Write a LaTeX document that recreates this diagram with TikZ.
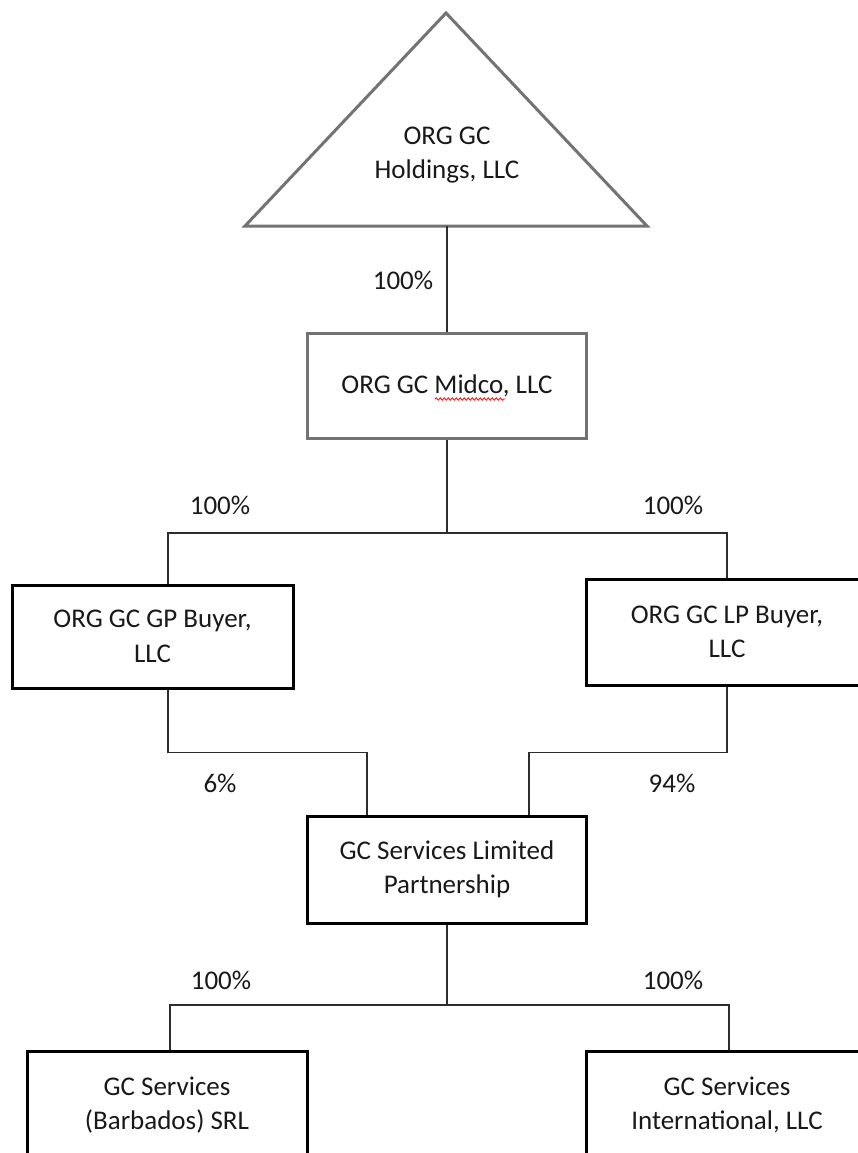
\documentclass[tikz,border=0pt]{standalone}
\usepackage{fontspec}
\setmainfont{Carlito}
\usetikzlibrary{decorations.pathmorphing}
\definecolor{txt}{RGB}{25,25,25}
\definecolor{linec}{RGB}{45,45,45}
\definecolor{grayb}{RGB}{115,115,115}
\tikzset{
  entity/.style={draw=black, line width=3pt, fill=white, align=center, text=txt,
    font=\fontsize{27}{34.5}\selectfont, inner sep=0pt},
  grayentity/.style={entity, draw=grayb},
  conn/.style={draw=linec, line width=1.3pt},
  pct/.style={text=txt, font=\fontsize{27}{32}\selectfont, inner sep=0pt},
}
\begin{document}
\begin{tikzpicture}[x=1pt,y=-1pt]
\useasboundingbox (0,0) rectangle (857,1153);
% triangle
\coordinate (apex) at (446,13);
\coordinate (tl) at (245,226);
\coordinate (tr) at (647,226);
\coordinate (tbase) at (447,226);
\draw[draw=grayb, line width=3pt, line join=miter] (apex) -- (tr) -- (tl) -- cycle;
\node[pct, align=center, font=\fontsize{27}{34.5}\selectfont] (hold) at (447,155) {ORG GC\\Holdings, LLC};
% boxes
\node[grayentity, minimum width=279pt, minimum height=105pt] (midco) at (447,385.5) {ORG GC Midco, LLC};
\node[entity, minimum width=281pt, minimum height=103pt] (gp) at (152.5,636.5) {ORG GC GP Buyer,\\LLC};
\node[entity, minimum width=282pt, minimum height=106pt] (lp) at (727,632) {ORG GC LP Buyer,\\LLC};
\node[entity, minimum width=279pt, minimum height=107pt] (gcs) at (447,869.5) {GC Services Limited\\Partnership};
\node[entity, minimum width=280pt, minimum height=107pt] (barb) at (167,1105) {GC Services\\(Barbados) SRL};
\node[entity, minimum width=282pt, minimum height=107pt] (intl) at (727,1105) {GC Services\\International, LLC};
% spell-check squiggle
\coordinate (sq1) at (435,399);
\coordinate (sq2) at (505,399);
\draw[red, line width=0.8pt, decorate, decoration={snake, segment length=4pt, amplitude=1.2pt}] (sq1) -- (sq2);
% connectors
\draw[conn] (tbase) -- (midco.north);
\coordinate (bus1) at (447,533);
\draw[conn] (midco.south) -- (bus1);
\draw[conn] (bus1) -| ([xshift=15.5pt]gp.north);
\draw[conn] (bus1) -| (lp.north);
\draw[conn] ([xshift=15.5pt]gp.south) |- ([xshift=-80pt,yshift=62pt]gcs.north) -- ([xshift=-80pt]gcs.north);
\draw[conn] (lp.south) |- ([xshift=82pt,yshift=62pt]gcs.north) -- ([xshift=82pt]gcs.north);
\coordinate (bus3) at (447,1005);
\draw[conn] (gcs.south) -- (bus3);
\draw[conn] (bus3) -| ([xshift=3pt]barb.north);
\draw[conn] (bus3) -| ([xshift=2pt]intl.north);
% percentages
\node[pct] (p1) at (403,280) {100\%};
\node[pct] (p2) at (220,505) {100\%};
\node[pct] (p3) at (673,505) {100\%};
\node[pct] (p4) at (220,783) {6\%};
\node[pct] (p5) at (672,783) {94\%};
\node[pct] (p6) at (221,980) {100\%};
\node[pct] (p7) at (673,980) {100\%};
\end{tikzpicture}
\end{document}
